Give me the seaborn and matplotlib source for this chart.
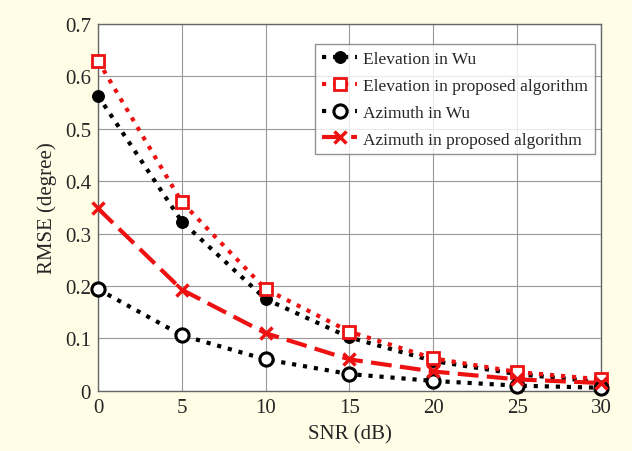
import numpy as np
import pandas as pd
import matplotlib
matplotlib.use('Agg')
import matplotlib.pyplot as plt
import seaborn as sns

# Data
snr = [0, 5, 10, 15, 20, 25, 30]
elev_wu = [0.563, 0.323, 0.175, 0.102, 0.057, 0.032, 0.017]
elev_prop = [0.630, 0.360, 0.194, 0.113, 0.062, 0.036, 0.022]
azim_wu = [0.194, 0.106, 0.060, 0.032, 0.019, 0.010, 0.006]
azim_prop = [0.348, 0.193, 0.110, 0.060, 0.037, 0.022, 0.015]
labels = ['Elevation in Wu', 'Elevation in proposed algorithm',
          'Azimuth in Wu', 'Azimuth in proposed algorithm']
x_ticks = [0, 5, 10, 15, 20, 25, 30]
y_ticks = [0, 0.1, 0.2, 0.3, 0.4, 0.5, 0.6, 0.7]

sns.set_style('white')
plt.rcParams['font.family'] = ['Liberation Serif', 'DejaVu Serif']

fig = plt.figure(figsize=(6.32, 4.52), dpi=100, facecolor='#fffde6')
ax = fig.add_axes([0.155, 0.133, 0.796, 0.812])
ax.set_facecolor('white')

red = '#ee1111'
styles = [
    dict(color='black', linestyle=':', marker='o', markersize=8.5,
         markerfacecolor='black', markeredgecolor='black'),
    dict(color=red, linestyle=':', marker='s', markersize=8.5,
         markerfacecolor='white', markeredgecolor=red, markeredgewidth=2),
    dict(color='black', linestyle=':', marker='o', markersize=9.5,
         markerfacecolor='white', markeredgecolor='black', markeredgewidth=2.2),
    dict(color=red, linestyle=(0, (5, 2)), marker='x', markersize=8.5,
         markeredgecolor=red, markerfacecolor=red, markeredgewidth=2.5),
]
series = [elev_wu, elev_prop, azim_wu, azim_prop]

for vals, lab, st in zip(series, labels, styles):
    df = pd.DataFrame({'SNR': snr, 'RMSE': vals})
    sns.lineplot(data=df, x='SNR', y='RMSE', ax=ax, label=lab,
                 linewidth=3, clip_on=False, zorder=3, **st)

ax.set_xlim(0, 30)
ax.set_ylim(0, 0.7)
ax.set_xticks(x_ticks)
ax.set_yticks(y_ticks)
ax.set_yticklabels(['0', '0.1', '0.2', '0.3', '0.4', '0.5', '0.6', '0.7'])
ax.tick_params(labelsize=15, length=0, pad=5)
ax.grid(True, color='#999999', linestyle='-', linewidth=0.8)
ax.set_axisbelow(True)
for s in ax.spines.values():
    s.set_color('#666666')
    s.set_linewidth(1)

ax.set_xlabel('SNR (dB)', fontsize=15, labelpad=5)
ax.set_ylabel('RMSE (degree)', fontsize=15, labelpad=6)

leg = ax.legend(loc='upper right', fontsize=12.5, frameon=True, fancybox=False,
                handlelength=2.0, handletextpad=0.35, borderpad=0.4,
                labelspacing=0.62, borderaxespad=0,
                bbox_to_anchor=(0.988, 0.946))
leg.get_frame().set_edgecolor('#777777')
leg.get_frame().set_linewidth(1)
leg.set_zorder(5)

fig.savefig('out.png', dpi=100, facecolor=fig.get_facecolor())
